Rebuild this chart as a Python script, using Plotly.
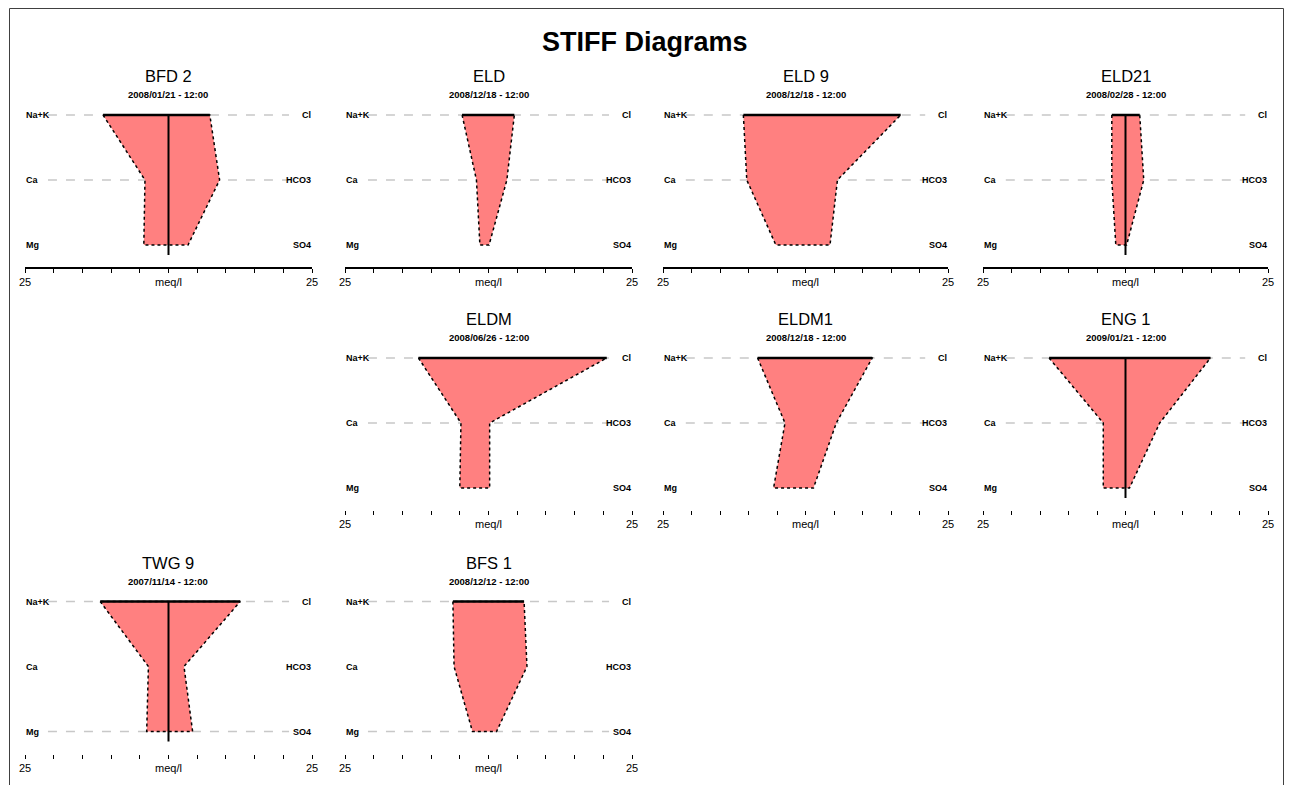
import plotly.graph_objects as go

W, H = 1290, 785

# Sample sites, sampling dates and ion concentrations (meq/l)
sites = ["BFD 2", "ELD", "ELD 9", "ELD21", "ELDM", "ELDM1", "ENG 1", "TWG 9", "BFS 1"]
dates = ["2008/01/21 - 12:00", "2008/12/18 - 12:00", "2008/12/18 - 12:00",
         "2008/02/28 - 12:00", "2008/06/26 - 12:00", "2008/12/18 - 12:00",
         "2009/01/21 - 12:00", "2007/11/14 - 12:00", "2008/12/12 - 12:00"]
na_k = [11.4, 4.6, 10.9, 2.4, 12.2, 8.4, 13.4, 11.9, 6.2]
ca = [4.1, 2.1, 10.3, 2.4, 4.8, 3.6, 3.9, 3.5, 6.0]
mg = [4.3, 1.5, 5.2, 1.7, 5.0, 5.6, 3.9, 3.8, 2.8]
cl = [7.2, 4.5, 16.7, 2.5, 20.6, 11.7, 14.9, 12.5, 6.2]
hco3 = [8.9, 3.2, 5.6, 3.2, 0.2, 5.4, 6.0, 2.7, 6.7]
so4 = [3.4, 0.1, 4.3, 0.2, 0.2, 1.4, 0.7, 4.2, 1.4]

cation_labels = ["Na+K", "Ca", "Mg"]
anion_labels = ["Cl", "HCO3", "SO4"]
tick_vals = [-25, -20, -15, -10, -5, 0, 5, 10, 15, 20, 25]
tick_text = ["25", "", "", "", "", "meq/l", "", "", "", "", "25"]
x_limit = 25

# grid position of each site (row, column) and whether a centre line is drawn
cells = [(0, 0), (0, 1), (0, 2), (0, 3), (1, 1), (1, 2), (1, 3), (2, 0), (2, 1)]
center_line = [True, False, False, True, False, False, True, True, False]

# pixel geometry of the panel grid
col_px = [(25, 312), (345, 632), (663, 948), (983, 1268)]
row_top = [115, 358, 601.5]
unit_px = 65.0          # vertical pixels between ion levels
axis_off = 152          # axis line below top level
top_pad = 12
dash_levels = [(2, 1), (2, 1), (2, 0)]
row_axis_line = [True, False, False]

FONT = "Liberation Sans"
PINK = "#ff8080"


def pxx(p):
    return p / W


def pxy(p):
    return 1 - p / H


fig = go.Figure()
annotations = []
shapes = []
layout = {}

for i, site in enumerate(sites):
    r, c = cells[i]
    n = i + 1
    xa = "x" if n == 1 else f"x{n}"
    ya = "y" if n == 1 else f"y{n}"
    xk = "xaxis" if n == 1 else f"xaxis{n}"
    yk = "yaxis" if n == 1 else f"yaxis{n}"
    x0, x1 = col_px[c]
    T = row_top[r]
    B = T + axis_off
    y_lo = 2 - (B - T) / unit_px
    y_hi = 2 + top_pad / unit_px

    layout[xk] = dict(
        domain=[pxx(x0), pxx(x1)], range=[-x_limit, x_limit], anchor=ya,
        tickvals=tick_vals, ticktext=tick_text, ticks="outside", ticklen=4,
        tickwidth=1, tickcolor="black", showgrid=False, zeroline=False,
        showline=row_axis_line[r], linecolor="black", linewidth=2,
        automargin=False,
        tickfont=dict(family=FONT, size=11, color="black"), fixedrange=True,
    )
    layout[yk] = dict(
        domain=[pxy(B), pxy(T - top_pad)], range=[y_lo, y_hi], anchor=xa,
        visible=False, fixedrange=True, automargin=False,
    )

    # dashed reference lines at ion levels
    for lv in dash_levels[r]:
        fig.add_trace(go.Scatter(
            x=[-21, 21], y=[lv, lv], xaxis=xa, yaxis=ya, mode="lines",
            line=dict(color="#c8c8c8", width=1.5, dash="dash"),
            hoverinfo="skip", showlegend=False))

    # Stiff polygon: cations on the left, anions on the right
    px_ = [-na_k[i], -ca[i], -mg[i], so4[i], hco3[i], cl[i], -na_k[i]]
    py_ = [2, 1, 0, 0, 1, 2, 2]
    fig.add_trace(go.Scatter(
        x=px_, y=py_, xaxis=xa, yaxis=ya, mode="lines", fill="toself",
        fillcolor=PINK, line=dict(color="black", width=1.5, dash="dot"),
        hoverinfo="skip", showlegend=False))
    fig.add_trace(go.Scatter(
        x=[-na_k[i], cl[i]], y=[2, 2], xaxis=xa, yaxis=ya, mode="lines",
        line=dict(color="black", width=2.5), hoverinfo="skip", showlegend=False))

    if center_line[i]:
        fig.add_trace(go.Scatter(
            x=[0, 0], y=[2, -10 / unit_px], xaxis=xa, yaxis=ya, mode="lines",
            line=dict(color="black", width=2), hoverinfo="skip", showlegend=False))

    # ion labels on both sides
    for k in range(3):
        lv_px = T + k * unit_px
        annotations.append(dict(
            x=pxx(x0), y=pxy(lv_px), xref="paper", yref="paper", xanchor="left",
            yanchor="middle", text=f"<b>{cation_labels[k]}</b>", showarrow=False,
            borderpad=0, font=dict(family=FONT, size=9, color="black")))
        annotations.append(dict(
            x=pxx(x1), y=pxy(lv_px), xref="paper", yref="paper", xanchor="right",
            yanchor="middle", text=f"<b>{anion_labels[k]}</b>", showarrow=False,
            borderpad=0, font=dict(family=FONT, size=9, color="black")))

    # site name and sampling date
    cx = (x0 + x1) / 2
    annotations.append(dict(
        x=pxx(cx), y=pxy(T - 39), xref="paper", yref="paper", xanchor="center",
        yanchor="middle", text=site, showarrow=False,
        font=dict(family=FONT, size=16.5, color="black")))
    annotations.append(dict(
        x=pxx(cx), y=pxy(T - 20.5), xref="paper", yref="paper", xanchor="center",
        yanchor="middle", text=f"<b>{dates[i]}</b>", showarrow=False,
        font=dict(family=FONT, size=9.5, color="black")))

annotations.append(dict(
    x=pxx(645), y=pxy(42), xref="paper", yref="paper", xanchor="center",
    yanchor="middle", text="<b>STIFF Diagrams</b>", showarrow=False,
    font=dict(family=FONT, size=27, color="black")))

shapes.append(dict(
    type="rect", xref="paper", yref="paper", x0=pxx(9.5), x1=pxx(1283.5),
    y0=pxy(800), y1=pxy(8.5), line=dict(color="#404040", width=1)))

fig.update_layout(
    width=W, height=H, margin=dict(l=0, r=0, t=0, b=0, pad=0, autoexpand=False),
    paper_bgcolor="white", plot_bgcolor="rgba(0,0,0,0)",
    showlegend=False, annotations=annotations, shapes=shapes, **layout)

fig.write_html("out.html")
